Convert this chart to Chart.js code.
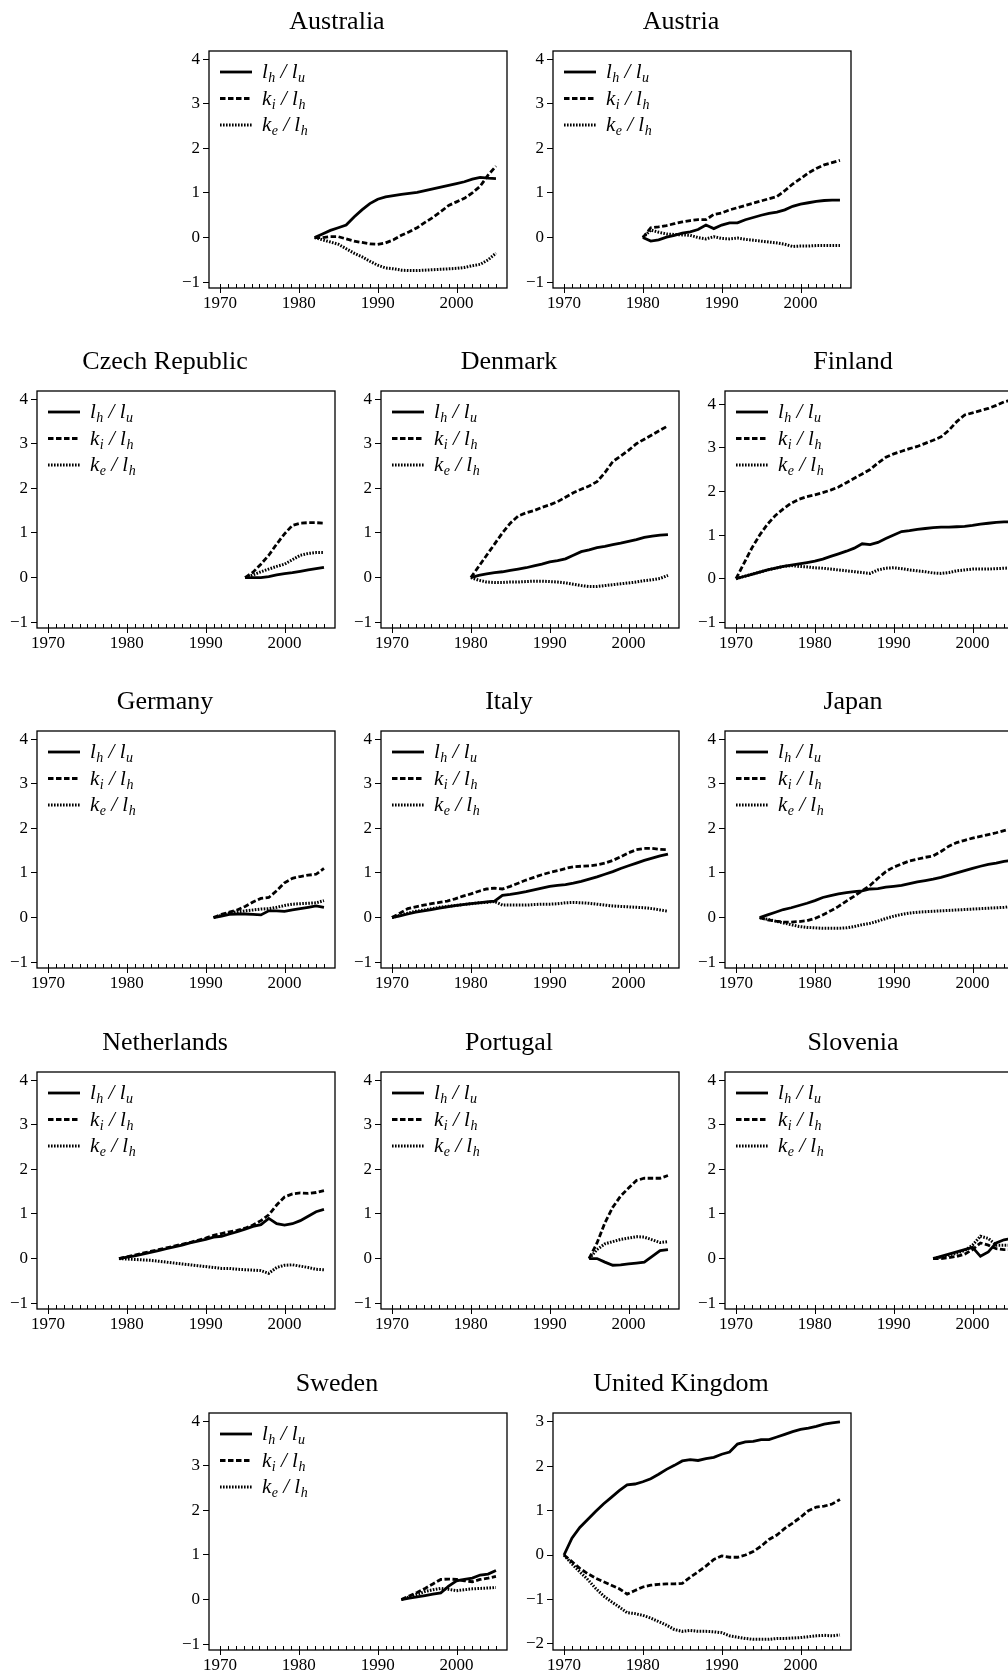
<!DOCTYPE html>
<html>
<head>
<meta charset="utf-8">
<script src="https://cdn.jsdelivr.net/npm/chart.js@4.4.1/dist/chart.umd.min.js"></script>
<style>
  body { margin: 0; background: #fff; width: 1008px; height: 1675px; overflow: hidden; position: relative; }
  canvas { position: absolute; }
</style>
</head>
<body>
<script>
// values, one value per year from each start year
const australia_start = 1982;
const australia_lh = [0, 0.08, 0.16, 0.22, 0.28, 0.46, 0.62, 0.76, 0.86, 0.91, 0.94, 0.97, 0.99, 1.01, 1.05, 1.09, 1.13, 1.17, 1.21, 1.25, 1.31, 1.35, 1.33, 1.32];
const australia_ki = [0, 0.0, 0.02, 0.02, -0.03, -0.08, -0.11, -0.14, -0.15, -0.12, -0.05, 0.05, 0.13, 0.22, 0.34, 0.45, 0.58, 0.72, 0.8, 0.88, 1.0, 1.15, 1.4, 1.6];
const australia_ke = [0, -0.05, -0.1, -0.15, -0.25, -0.35, -0.43, -0.53, -0.62, -0.68, -0.7, -0.73, -0.74, -0.74, -0.73, -0.72, -0.71, -0.7, -0.69, -0.67, -0.63, -0.6, -0.5, -0.35];

const austria_start = 1980;
const austria_lh = [0, -0.08, -0.05, 0.01, 0.05, 0.1, 0.13, 0.18, 0.28, 0.2, 0.28, 0.33, 0.33, 0.4, 0.45, 0.5, 0.54, 0.57, 0.62, 0.7, 0.75, 0.78, 0.81, 0.83, 0.84, 0.84];
const austria_ki = [0, 0.22, 0.24, 0.27, 0.31, 0.35, 0.38, 0.4, 0.4, 0.52, 0.55, 0.62, 0.67, 0.72, 0.77, 0.82, 0.87, 0.92, 1.05, 1.2, 1.32, 1.45, 1.55, 1.63, 1.68, 1.73];
const austria_ke = [0, 0.17, 0.12, 0.08, 0.07, 0.06, 0.05, 0.0, -0.03, 0.02, -0.02, -0.03, -0.01, -0.04, -0.06, -0.08, -0.1, -0.12, -0.15, -0.2, -0.19, -0.19, -0.18, -0.18, -0.18, -0.18];

const czech_start = 1995;
const czech_lh = [0, 0.0, 0.0, 0.02, 0.06, 0.09, 0.11, 0.14, 0.17, 0.2, 0.23];
const czech_ki = [0, 0.12, 0.3, 0.5, 0.75, 0.98, 1.17, 1.22, 1.23, 1.23, 1.22];
const czech_ke = [0, 0.06, 0.13, 0.19, 0.25, 0.3, 0.4, 0.5, 0.54, 0.56, 0.56];

const denmark_start = 1980;
const denmark_lh = [0, 0.05, 0.08, 0.11, 0.13, 0.16, 0.19, 0.22, 0.26, 0.3, 0.35, 0.38, 0.42, 0.5, 0.58, 0.62, 0.67, 0.7, 0.74, 0.77, 0.81, 0.85, 0.9, 0.93, 0.95, 0.96];
const denmark_ki = [0, 0.25, 0.5, 0.75, 1.0, 1.22, 1.38, 1.45, 1.5, 1.57, 1.63, 1.7, 1.8, 1.9, 1.98, 2.05, 2.15, 2.35, 2.6, 2.72, 2.85, 3.0, 3.1, 3.2, 3.3, 3.4];
const denmark_ke = [0, -0.06, -0.1, -0.11, -0.11, -0.1, -0.1, -0.09, -0.08, -0.08, -0.09, -0.1, -0.12, -0.15, -0.18, -0.2, -0.2, -0.18, -0.16, -0.14, -0.12, -0.1, -0.07, -0.05, -0.02, 0.05];

const finland_start = 1970;
const finland_lh = [0, 0.05, 0.1, 0.15, 0.2, 0.24, 0.28, 0.31, 0.34, 0.37, 0.4, 0.45, 0.51, 0.57, 0.63, 0.7, 0.8, 0.78, 0.83, 0.92, 1.0, 1.08, 1.1, 1.13, 1.15, 1.17, 1.18, 1.18, 1.19, 1.2, 1.22, 1.25, 1.27, 1.29, 1.3, 1.3];
const finland_ki = [0, 0.35, 0.7, 1.0, 1.25, 1.45, 1.6, 1.73, 1.82, 1.88, 1.92, 1.97, 2.03, 2.1, 2.2, 2.3, 2.4, 2.5, 2.65, 2.78, 2.86, 2.92, 2.98, 3.03, 3.1, 3.17, 3.25, 3.4, 3.6, 3.75, 3.8, 3.85, 3.9, 3.97, 4.05, 4.1];
const finland_ke = [0, 0.05, 0.1, 0.15, 0.2, 0.24, 0.28, 0.3, 0.28, 0.27, 0.25, 0.24, 0.22, 0.2, 0.18, 0.16, 0.14, 0.12, 0.2, 0.24, 0.25, 0.23, 0.2, 0.18, 0.16, 0.13, 0.12, 0.14, 0.18, 0.2, 0.22, 0.22, 0.22, 0.23, 0.24, 0.25];

const germany_start = 1991;
const germany_lh = [0, 0.03, 0.07, 0.08, 0.08, 0.07, 0.06, 0.15, 0.15, 0.14, 0.17, 0.2, 0.23, 0.26, 0.23];
const germany_ki = [0, 0.07, 0.12, 0.17, 0.25, 0.35, 0.43, 0.45, 0.6, 0.78, 0.88, 0.92, 0.95, 0.97, 1.1];
const germany_ke = [0, 0.05, 0.1, 0.13, 0.15, 0.17, 0.19, 0.2, 0.23, 0.27, 0.3, 0.31, 0.32, 0.33, 0.38];

const italy_start = 1970;
const italy_lh = [0, 0.04, 0.08, 0.12, 0.15, 0.18, 0.21, 0.24, 0.27, 0.29, 0.31, 0.33, 0.35, 0.37, 0.5, 0.52, 0.55, 0.58, 0.62, 0.66, 0.7, 0.72, 0.74, 0.77, 0.81, 0.86, 0.91, 0.97, 1.03, 1.1, 1.16, 1.22, 1.28, 1.33, 1.38, 1.42];
const italy_ki = [0, 0.1, 0.2, 0.24, 0.28, 0.31, 0.34, 0.37, 0.42, 0.48, 0.53, 0.59, 0.64, 0.66, 0.64, 0.7, 0.77, 0.84, 0.9, 0.96, 1.01, 1.05, 1.1, 1.14, 1.15, 1.16, 1.18, 1.22, 1.28, 1.36, 1.45, 1.52, 1.55, 1.55, 1.53, 1.52];
const italy_ke = [0, 0.05, 0.1, 0.14, 0.17, 0.2, 0.23, 0.25, 0.27, 0.29, 0.31, 0.33, 0.34, 0.36, 0.28, 0.28, 0.28, 0.28, 0.29, 0.3, 0.3, 0.31, 0.33, 0.34, 0.33, 0.32, 0.3, 0.28, 0.26, 0.25, 0.24, 0.23, 0.22, 0.2, 0.17, 0.14];

const japan_start = 1973;
const japan_lh = [0, 0.06, 0.12, 0.18, 0.22, 0.27, 0.32, 0.38, 0.45, 0.49, 0.53, 0.56, 0.58, 0.6, 0.64, 0.65, 0.68, 0.7, 0.72, 0.76, 0.8, 0.83, 0.86, 0.9, 0.95, 1.0, 1.05, 1.1, 1.15, 1.19, 1.22, 1.26, 1.28];
const japan_ki = [0, -0.05, -0.08, -0.1, -0.1, -0.09, -0.07, -0.02, 0.06, 0.15, 0.25, 0.37, 0.48, 0.6, 0.72, 0.88, 1.03, 1.13, 1.2, 1.27, 1.31, 1.35, 1.38, 1.48, 1.6, 1.68, 1.73, 1.78, 1.82, 1.86, 1.9, 1.95, 2.0];
const japan_ke = [0, -0.04, -0.08, -0.12, -0.16, -0.2, -0.22, -0.23, -0.24, -0.24, -0.24, -0.23, -0.2, -0.16, -0.13, -0.08, -0.02, 0.03, 0.07, 0.1, 0.12, 0.13, 0.14, 0.15, 0.16, 0.17, 0.18, 0.19, 0.2, 0.21, 0.22, 0.23, 0.25];

const netherlands_start = 1979;
const netherlands_lh = [0, 0.03, 0.06, 0.1, 0.14, 0.18, 0.22, 0.26, 0.3, 0.35, 0.39, 0.43, 0.48, 0.5, 0.55, 0.6, 0.66, 0.72, 0.76, 0.9, 0.78, 0.75, 0.78, 0.85, 0.95, 1.05, 1.1];
const netherlands_ki = [0, 0.04, 0.08, 0.12, 0.16, 0.2, 0.24, 0.28, 0.32, 0.36, 0.41, 0.46, 0.52, 0.56, 0.6, 0.63, 0.68, 0.75, 0.85, 0.98, 1.2, 1.38, 1.45, 1.47, 1.46, 1.48, 1.52];
const netherlands_ke = [0, -0.01, -0.02, -0.03, -0.04, -0.06, -0.08, -0.1, -0.12, -0.14, -0.16, -0.18, -0.2, -0.22, -0.22, -0.24, -0.25, -0.26, -0.27, -0.33, -0.2, -0.15, -0.14, -0.17, -0.2, -0.24, -0.25];

const portugal_start = 1995;
const portugal_lh = [0, 0.0, -0.08, -0.15, -0.14, -0.12, -0.1, -0.08, 0.05, 0.18, 0.2];
const portugal_ki = [0, 0.35, 0.8, 1.15, 1.4, 1.58, 1.75, 1.8, 1.8, 1.8, 1.86];
const portugal_ke = [0, 0.2, 0.33, 0.38, 0.43, 0.46, 0.49, 0.48, 0.42, 0.36, 0.38];

const slovenia_start = 1995;
const slovenia_lh = [0, 0.05, 0.1, 0.15, 0.2, 0.25, 0.05, 0.15, 0.35, 0.42, 0.45];
const slovenia_ki = [0, 0.0, 0.02, 0.05, 0.1, 0.2, 0.35, 0.3, 0.22, 0.2, 0.2];
const slovenia_ke = [0, 0.03, 0.08, 0.12, 0.18, 0.3, 0.5, 0.45, 0.3, 0.3, 0.3];

const sweden_start = 1993;
const sweden_lh = [0, 0.03, 0.06, 0.09, 0.12, 0.15, 0.3, 0.42, 0.45, 0.48, 0.55, 0.57, 0.65];
const sweden_ki = [0, 0.08, 0.16, 0.25, 0.35, 0.45, 0.46, 0.45, 0.42, 0.4, 0.45, 0.48, 0.52];
const sweden_ke = [0, 0.06, 0.12, 0.18, 0.22, 0.25, 0.23, 0.2, 0.22, 0.24, 0.25, 0.26, 0.27];

const uk_start = 1970;
const uk_lh = [0, 0.38, 0.62, 0.8, 0.98, 1.15, 1.3, 1.45, 1.58, 1.6, 1.65, 1.72, 1.82, 1.93, 2.02, 2.12, 2.15, 2.13, 2.17, 2.2, 2.27, 2.32, 2.5, 2.55, 2.56, 2.6, 2.6, 2.66, 2.72, 2.78, 2.83, 2.86, 2.9, 2.95, 2.98, 3.0];
const uk_ki = [0, -0.15, -0.3, -0.42, -0.52, -0.6, -0.68, -0.76, -0.88, -0.8, -0.72, -0.68, -0.66, -0.65, -0.65, -0.64, -0.5, -0.38, -0.25, -0.1, -0.02, -0.05, -0.05, 0.0, 0.08, 0.2, 0.35, 0.45, 0.6, 0.72, 0.85, 1.0, 1.08, 1.1, 1.15, 1.25];
const uk_ke = [0, -0.2, -0.38, -0.55, -0.75, -0.92, -1.05, -1.17, -1.3, -1.32, -1.36, -1.42, -1.5, -1.58, -1.68, -1.72, -1.7, -1.72, -1.72, -1.73, -1.75, -1.82, -1.85, -1.88, -1.9, -1.9, -1.9, -1.88, -1.88, -1.87, -1.86, -1.84, -1.82, -1.81, -1.82, -1.8];

const xTickLabels = [1970, 1980, 1990, 2000];
const yRangeDefault = [-1.13, 4.18];

// page layout
const PW = 298, PH = 237;
const ML = 50, MR = 8, MT = 50, MB = 35;
const colX = [37, 381, 725];
const midX = [209, 553];
const rowY = [51, 391, 731, 1072, 1413];

const panels = [
  { name: 'Australia', left: midX[0], top: rowY[0], start: australia_start, s: [australia_lh, australia_ki, australia_ke] },
  { name: 'Austria', left: midX[1], top: rowY[0], start: austria_start, s: [austria_lh, austria_ki, austria_ke] },
  { name: 'Czech Republic', left: colX[0], top: rowY[1], start: czech_start, s: [czech_lh, czech_ki, czech_ke] },
  { name: 'Denmark', left: colX[1], top: rowY[1], start: denmark_start, s: [denmark_lh, denmark_ki, denmark_ke] },
  { name: 'Finland', left: colX[2], top: rowY[1], start: finland_start, s: [finland_lh, finland_ki, finland_ke], yr: [-1.13, 4.3] },
  { name: 'Germany', left: colX[0], top: rowY[2], start: germany_start, s: [germany_lh, germany_ki, germany_ke] },
  { name: 'Italy', left: colX[1], top: rowY[2], start: italy_start, s: [italy_lh, italy_ki, italy_ke] },
  { name: 'Japan', left: colX[2], top: rowY[2], start: japan_start, s: [japan_lh, japan_ki, japan_ke] },
  { name: 'Netherlands', left: colX[0], top: rowY[3], start: netherlands_start, s: [netherlands_lh, netherlands_ki, netherlands_ke] },
  { name: 'Portugal', left: colX[1], top: rowY[3], start: portugal_start, s: [portugal_lh, portugal_ki, portugal_ke] },
  { name: 'Slovenia', left: colX[2], top: rowY[3], start: slovenia_start, s: [slovenia_lh, slovenia_ki, slovenia_ke] },
  { name: 'Sweden', left: midX[0], top: rowY[4], start: sweden_start, s: [sweden_lh, sweden_ki, sweden_ke] },
  { name: 'United Kingdom', left: midX[1], top: rowY[4], start: uk_start, s: [uk_lh, uk_ki, uk_ke], yr: [-2.14, 3.2], noLegend: true }
];

const lineStyles = [
  { borderWidth: 2.8, borderDash: [] },
  { borderWidth: 2.8, borderDash: [5.5, 2.5] },
  { borderWidth: 3, borderDash: [1.6, 1.4] }
];
const legendParts = [[['l', 'h'], ['l', 'u']], [['k', 'i'], ['l', 'h']], [['k', 'e'], ['l', 'h']]];

const serif = '"Liberation Serif", "DejaVu Serif", serif';

const panelDecor = {
  id: 'panelDecor',
  afterDraw(chart, args, opts) {
    const { ctx, chartArea: a } = chart;
    ctx.save();
    ctx.strokeStyle = '#000';
    ctx.fillStyle = '#000';
    ctx.lineWidth = 1.3;
    ctx.strokeRect(a.left, a.top, a.right - a.left, a.bottom - a.top);

    // year ticks: minor inside, decades outside
    const xs = chart.scales.x;
    ctx.lineWidth = 1;
    for (let yr = 1970; yr <= 2005; yr++) {
      const px = Math.round(xs.getPixelForValue(yr)) + 0.5;
      ctx.beginPath();
      if (yr % 10 === 0) { ctx.moveTo(px, a.bottom - 4); ctx.lineTo(px, a.bottom + 5); }
      else { ctx.moveTo(px, a.bottom); ctx.lineTo(px, a.bottom - 4); }
      ctx.stroke();
    }

    // title
    ctx.font = '26px ' + serif;
    ctx.textAlign = 'center';
    ctx.textBaseline = 'middle';
    ctx.fillText(opts.title, chart.width / 2, a.top - 29);

    // legend
    if (!opts.noLegend) {
      ctx.textAlign = 'left';
      ctx.textBaseline = 'alphabetic';
      legendParts.forEach((parts, i) => {
        const ly = a.top + 21 + i * 26.5;
        ctx.save();
        ctx.lineWidth = lineStyles[i].borderWidth;
        ctx.setLineDash(lineStyles[i].borderDash);
        ctx.beginPath();
        ctx.moveTo(a.left + 11, ly);
        ctx.lineTo(a.left + 43, ly);
        ctx.stroke();
        ctx.restore();
        let tx = a.left + 53;
        const base = ly + 6;
        parts.forEach((p, j) => {
          ctx.font = 'italic 21px ' + serif;
          ctx.fillText(p[0], tx, base);
          tx += ctx.measureText(p[0]).width + 0.5;
          ctx.font = 'italic 14px ' + serif;
          ctx.fillText(p[1], tx, base + 4);
          tx += ctx.measureText(p[1]).width;
          if (j === 0) {
            ctx.font = 'italic 21px ' + serif;
            ctx.fillText(' / ', tx, base);
            tx += ctx.measureText(' / ').width;
          }
        });
      });
    }
    ctx.restore();
  }
};

panels.forEach(p => {
  const cv = document.createElement('canvas');
  const W = ML + PW + MR, H = MT + PH + MB;
  cv.width = W; cv.height = H;
  cv.style.left = (p.left - ML) + 'px';
  cv.style.top = (p.top - MT) + 'px';
  cv.style.width = W + 'px';
  cv.style.height = H + 'px';
  document.body.appendChild(cv);
  const yr = p.yr || yRangeDefault;

  const datasets = p.s.map((vals, k) => ({
    data: vals.map((v, i) => ({ x: p.start + i, y: v })),
    borderColor: '#000',
    borderWidth: lineStyles[k].borderWidth,
    borderDash: lineStyles[k].borderDash,
    pointRadius: 0,
    fill: false,
    tension: 0
  }));

  new Chart(cv, {
    type: 'line',
    data: { datasets },
    options: {
      responsive: false,
      animation: false,
      devicePixelRatio: 1,
      layout: { padding: { top: MT, right: MR, left: 0, bottom: 0 } },
      plugins: { legend: { display: false }, tooltip: { enabled: false }, panelDecor: { title: p.name, noLegend: !!p.noLegend } },
      scales: {
        x: {
          type: 'linear', min: 1968.6, max: 2006.4,
          afterFit(s) { s.height = MB; },
          afterBuildTicks(s) { s.ticks = xTickLabels.map(v => ({ value: v })); },
          border: { display: false },
          grid: { display: false, drawTicks: false, tickLength: 0 },
          ticks: { padding: 5, color: '#000', maxRotation: 0, autoSkip: false, font: { family: serif, size: 17 }, callback: v => String(v) }
        },
        y: {
          min: yr[0], max: yr[1],
          afterFit(s) { s.width = ML; },
          border: { display: false },
          grid: { drawOnChartArea: false, tickLength: 6, color: '#000', lineWidth: 1 },
          ticks: { stepSize: 1, includeBounds: false, padding: 3, color: '#000', font: { family: serif, size: 17 }, callback: v => String(v).replace('-', '\u2212') }
        }
      }
    },
    plugins: [panelDecor]
  });
});
</script>
</body>
</html>
